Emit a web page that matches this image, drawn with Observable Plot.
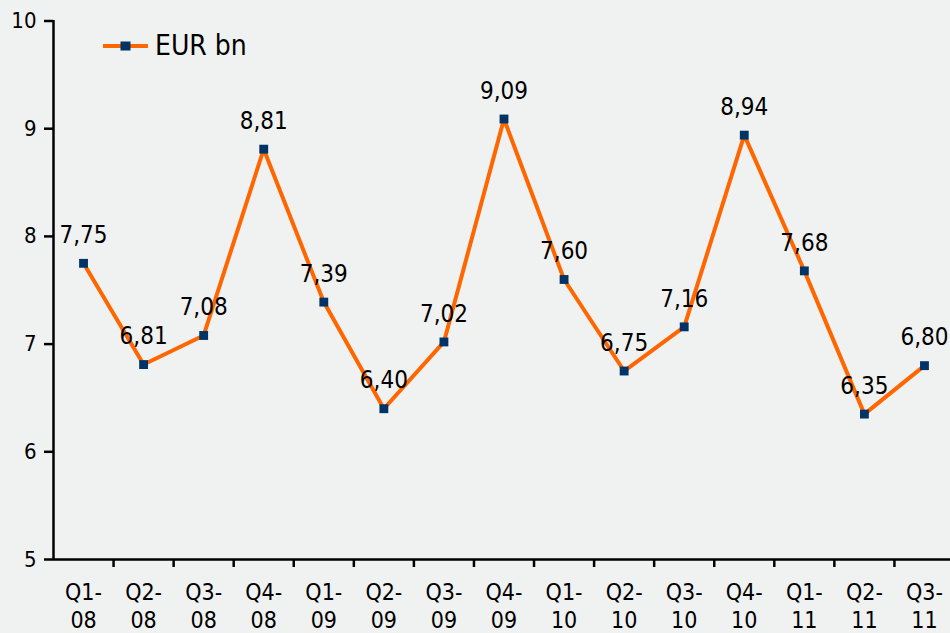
<!DOCTYPE html>
<html><head><meta charset="utf-8">
<script src="https://cdn.jsdelivr.net/npm/d3@7"></script>
<script src="https://cdn.jsdelivr.net/npm/@observablehq/plot@0.6"></script>
<style>
body{margin:0;background:#f0f2f1;}
#wrap{position:relative;width:950px;height:633px;overflow:hidden;font-family:"DejaVu Sans Condensed","DejaVu Sans",sans-serif;}
#legend{position:absolute;left:103px;top:29px;display:flex;align-items:center;font-size:28px;color:#000;}
#legend svg{margin-right:7px;}
#wrap g[aria-label="y-axis tick label"]{font-size:22px;}
#wrap g[aria-label="x-axis tick label"]{font-size:23px;}
</style></head><body><div id="wrap"><div id="legend"></div></div>
<script>
const quarters = ["Q1-08","Q2-08","Q3-08","Q4-08","Q1-09","Q2-09","Q3-09","Q4-09","Q1-10","Q2-10","Q3-10","Q4-10","Q1-11","Q2-11","Q3-11"];
const values = [7.75,6.81,7.08,8.81,7.39,6.40,7.02,9.09,7.60,6.75,7.16,8.94,7.68,6.35,6.80];
const yTicks = [5,6,7,8,9,10];
const seriesName = "EUR bn";
const lineColor = "#ff6600";
const markerColor = "#003366";

const n = quarters.length;
const data = quarters.map((q,i)=>({i, q, v: values[i]}));
const bounds = d3.range(n - 1).map(i => i + 0.5);
const fmt = v => d3.format(".2f")(v).replace(".", ",");
const font = '"DejaVu Sans Condensed","DejaVu Sans",sans-serif';

const chart = Plot.plot({
  width: 950, height: 633,
  marginLeft: 53, marginTop: 20, marginBottom: 74, marginRight: 0,
  style: {background: "transparent", fontFamily: font, color: "#000", overflow: "visible"},
  x: {domain: [-0.5, n - 0.5], range: [53, 954], label: null},
  y: {domain: [5, 10], range: [559, 20.5], label: null},
  marks: [
    Plot.axisY({ticks: yTicks, tickSize: 9, tickPadding: 8, tickFormat: d => String(d), fontSize: 22, strokeWidth: 2.5, label: null}),
    Plot.axisX({ticks: bounds, tickSize: 8, tickFormat: () => "", strokeWidth: 2.5, label: null}),
    Plot.axisX({ticks: d3.range(n), tickSize: 0, tickPadding: 21, tickFormat: i => quarters[i].replace("-", "-\n"), fontSize: 23, lineHeight: 1.2, label: null}),
    Plot.ruleX([-0.5], {stroke: "#000", strokeWidth: 2.5}),
    Plot.ruleY([5], {stroke: "#000", strokeWidth: 2.5}),
    Plot.line(data, {x: "i", y: "v", stroke: lineColor, strokeWidth: 4}),
    Plot.dot(data, {x: "i", y: "v", symbol: "square", fill: markerColor, r: 5}),
    Plot.text(data, {x: "i", y: "v", text: d => fmt(d.v), dy: -28, fontSize: 24, fill: "#000"})
  ]
});
document.getElementById("wrap").appendChild(chart);

document.getElementById("legend").innerHTML =
  `<svg width="45" height="12"><line x1="0" y1="6" x2="45" y2="6" stroke="${lineColor}" stroke-width="4"/><rect x="17.5" y="1.5" width="10" height="9" fill="${markerColor}"/></svg><span>${seriesName}</span>`;
</script></body></html>
